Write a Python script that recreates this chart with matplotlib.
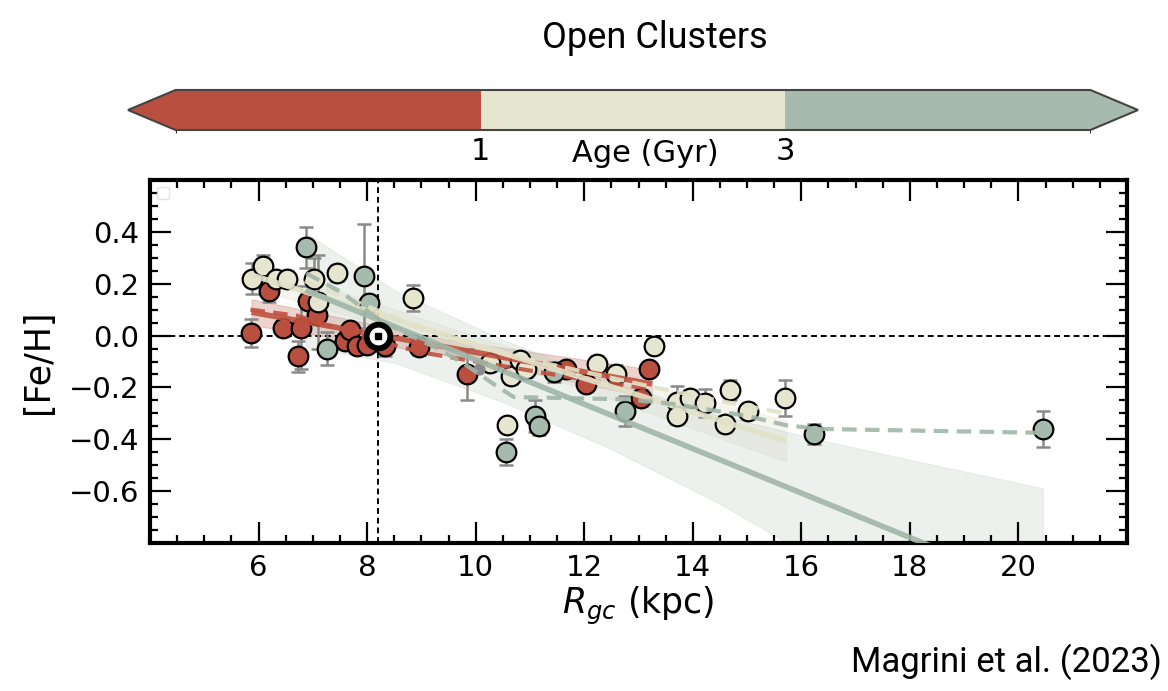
import numpy as np
import matplotlib
matplotlib.use("Agg")
import matplotlib.pyplot as plt
from matplotlib.colors import ListedColormap, BoundaryNorm
from matplotlib.ticker import MultipleLocator

# ---------------- data ----------------
# young clusters (< 1 Gyr)
young_r = [5.87, 6.19, 6.45, 6.73, 6.78, 6.92, 7.08, 7.59, 7.69, 7.82, 8.00, 8.33, 8.96, 9.84, 11.66, 12.03, 13.05, 13.19]
young_feh = [0.01, 0.17, 0.03, -0.08, 0.03, 0.135, 0.08, -0.02, 0.02, -0.04, -0.035, -0.04, -0.045, -0.15, -0.13, -0.185, -0.24, -0.13]
young_err = [0.055, 0.04, 0.03, 0.06, 0.16, 0.03, 0.03, 0.03, 0.03, 0.02, 0.03, 0.04, 0.03, 0.10, 0.03, 0.02, 0.03, 0.02]

# intermediate-age clusters (1-3 Gyr)
mid_r = [5.88, 6.09, 6.32, 6.53, 7.02, 7.10, 7.45, 8.84, 10.27, 10.58, 10.65, 10.81, 10.93, 12.24, 12.58, 13.29, 13.71, 13.95, 13.71, 14.23, 14.60, 14.68, 15.02, 15.69]
mid_feh = [0.22, 0.27, 0.22, 0.22, 0.22, 0.13, 0.24, 0.145, -0.105, -0.345, -0.155, -0.095, -0.13, -0.11, -0.15, -0.04, -0.255, -0.24, -0.31, -0.26, -0.34, -0.21, -0.29, -0.24]
mid_err = [0.06, 0.04, 0.03, 0.03, 0.08, 0.18, 0.03, 0.05, 0.03, 0.02, 0.03, 0.03, 0.03, 0.03, 0.035, 0.02, 0.06, 0.03, 0.03, 0.055, 0.03, 0.04, 0.03, 0.07]

# old clusters (> 3 Gyr)
old_r = [6.88, 7.27, 7.94, 8.04, 10.55, 11.10, 11.17, 11.45, 12.76, 16.24, 20.45]
old_feh = [0.34, -0.05, 0.23, 0.125, -0.45, -0.31, -0.35, -0.14, -0.29, -0.38, -0.36]
old_err = [0.08, 0.065, 0.20, 0.03, 0.05, 0.06, 0.035, 0.04, 0.058, 0.04, 0.07]

# cluster without age class
other_r = [10.07]
other_feh = [-0.13]

# solar position
sun_r = 8.2
sun_feh = 0.0

# linear gradients: [R_start, R_end], [Fe/H] at R_start, slope (dex/kpc)
young_fit_range = [5.87, 13.25]
young_fit_zero = 0.09
young_fit_slope = -0.0375
mid_fit_range = [5.85, 15.72]
mid_fit_zero = 0.235
mid_fit_slope = -0.065
old_fit_range = [6.87, 20.45]
old_fit_zero = 0.175
old_fit_slope = -0.0857

# half-width of the gradient uncertainty bands
young_band_r = [5.87, 9.5, 13.25]
young_band_w = [0.05, 0.03, 0.055]
mid_band_r = [5.85, 10.5, 15.72]
mid_band_w = [0.05, 0.03, 0.08]
old_band_r = [6.87, 8.5, 10.5, 12.5, 14.5, 16.5, 18.5, 20.45]
old_band_w = [0.22, 0.14, 0.12, 0.13, 0.17, 0.24, 0.32, 0.40]

# running medians
young_med_r = [5.85, 6.7, 8.3, 9.0, 10.8, 12.1, 13.2]
young_med_feh = [0.10, 0.077, -0.026, -0.065, -0.128, -0.173, -0.205]
mid_med_r = [6.85, 8.4, 8.95, 10.5, 12.0, 13.3, 14.7, 15.7]
mid_med_feh = [0.21, 0.08, 0.03, -0.07, -0.14, -0.20, -0.26, -0.30]
old_med_r = [6.88, 7.5, 8.3, 9.25, 9.8, 10.35, 10.7, 12.8, 13.7, 15.0, 15.7, 16.3, 20.45]
old_med_feh = [0.24, 0.17, 0.05, -0.045, -0.11, -0.19, -0.237, -0.246, -0.265, -0.31, -0.345, -0.36, -0.375]

# age classes for the colour bar
age_bounds = [0, 1, 3, 5]
age_ticks = [1, 3]

# ---------------- style ----------------
RED = "#b9503f"
CREAM = "#e5e5d0"
SAGE = "#a6bbad"

plt.rcParams["font.family"] = ["DejaVu Sans"]

fig = plt.figure(figsize=(11.68, 6.91), dpi=100)
W, H = 1168, 691
ax = fig.add_axes([150 / W, 1 - 543 / H, 977 / W, 363 / H])

groups = [
    (young_r, young_feh, young_err, RED, young_fit_range, young_fit_zero, young_fit_slope,
     young_band_r, young_band_w, young_med_r, young_med_feh, "#c0513f"),
    (mid_r, mid_feh, mid_err, CREAM, mid_fit_range, mid_fit_zero, mid_fit_slope,
     mid_band_r, mid_band_w, mid_med_r, mid_med_feh, "#e2e1c8"),
    (old_r, old_feh, old_err, SAGE, old_fit_range, old_fit_zero, old_fit_slope,
     old_band_r, old_band_w, old_med_r, old_med_feh, "#a0b6a8"),
]

band_alpha = [0.25, 0.35, 0.2]
for (r, feh, err, col, frange, fzero, fslope, br, bw, mr, mf, lcol), ba in zip(groups, band_alpha):
    rr = np.linspace(frange[0], frange[1], 200)
    line = fzero + fslope * (rr - frange[0])
    half = np.interp(rr, br, bw)
    ax.fill_between(rr, line - half, line + half, color=col, alpha=ba, lw=0.8, zorder=1)

ax.axhline(0, color="black", ls=(0, (3, 2)), lw=1.4, zorder=1.5)
ax.axvline(sun_r, color="black", ls=(0, (3, 2)), lw=1.4, zorder=1.5)

for (r, feh, err, col, *_rest) in groups:
    ax.errorbar(r, feh, yerr=err, fmt="none", ecolor="#8a8a8a", elinewidth=1.8,
                capsize=5, capthick=1.8, zorder=2)
    ax.scatter(r, feh, s=200, c=col, edgecolors="black", linewidths=1.6, zorder=3)

ax.scatter(other_r, other_feh, s=60, c="#8a8a8a", zorder=3)

for (r, feh, err, col, frange, fzero, fslope, br, bw, mr, mf, lcol) in groups:
    rr = np.array(frange)
    ax.plot(rr, fzero + fslope * (rr - frange[0]), color=lcol, lw=4, alpha=0.9,
            solid_capstyle="butt", zorder=4)
    ax.plot(mr, mf, color=lcol, lw=3, ls=(0, (3.5, 2)), alpha=0.9, zorder=4)

# the Sun
ax.plot(sun_r, sun_feh, "o", ms=17, mfc="white", mec="black", mew=4.2, zorder=6)
ax.plot(sun_r, sun_feh, "s", ms=4.5, color="black", zorder=7)

ax.set_xlim(4, 22)
ax.set_ylim(-0.8, 0.6)
ax.set_xticks([6, 8, 10, 12, 14, 16, 18, 20])
ax.set_yticks([-0.6, -0.4, -0.2, 0.0, 0.2, 0.4])
ax.xaxis.set_minor_locator(MultipleLocator(0.5))
ax.yaxis.set_minor_locator(MultipleLocator(0.05))
ax.tick_params(which="both", direction="in", top=True, right=True, labelsize=21, width=1.6)
ax.tick_params(which="major", length=15, pad=8)
ax.tick_params(which="minor", length=6)
for sp in ax.spines.values():
    sp.set_linewidth(3)

ax.set_xlabel(r"$R_{gc}$ (kpc)", fontsize=25, labelpad=2)
ax.set_ylabel("[Fe/H]", fontsize=25, labelpad=10)

leg = ax.legend(handles=[], loc="upper left", frameon=True, borderpad=0.45,
                fancybox=True, framealpha=0.8)
leg.get_frame().set_edgecolor("#dddddd")

# colour bar of age classes
cax = fig.add_axes([128 / W, 1 - 130 / H, 1010 / W, 40 / H])
cmap = ListedColormap([RED, CREAM, SAGE])
cmap.set_under(RED)
cmap.set_over(SAGE)
norm = BoundaryNorm(age_bounds, cmap.N)
sm = matplotlib.cm.ScalarMappable(norm=norm, cmap=cmap)
cb = fig.colorbar(sm, cax=cax, orientation="horizontal", extend="both",
                  extendfrac=0.052, spacing="uniform", ticks=age_ticks)
cb.outline.set_edgecolor("#444444")
cb.outline.set_linewidth(1.5)
cb.ax.tick_params(length=0, labelsize=22, pad=5)
cb.ax.set_xticklabels([str(t) for t in age_ticks])
fig.text(645 / W, 1 - 154 / H, "Age (Gyr)", ha="center", va="center", fontsize=22)

fig.text(655 / W, 1 - 38 / H, "Open Clusters", ha="center", va="center",
         fontsize=26, family="Roboto", color="black")
fig.text(1162 / W, 1 - 662 / H, "Magrini et al. (2023)", ha="right", va="center",
         fontsize=25, family="Roboto", color="black")

fig.savefig("out.png", dpi=100)
